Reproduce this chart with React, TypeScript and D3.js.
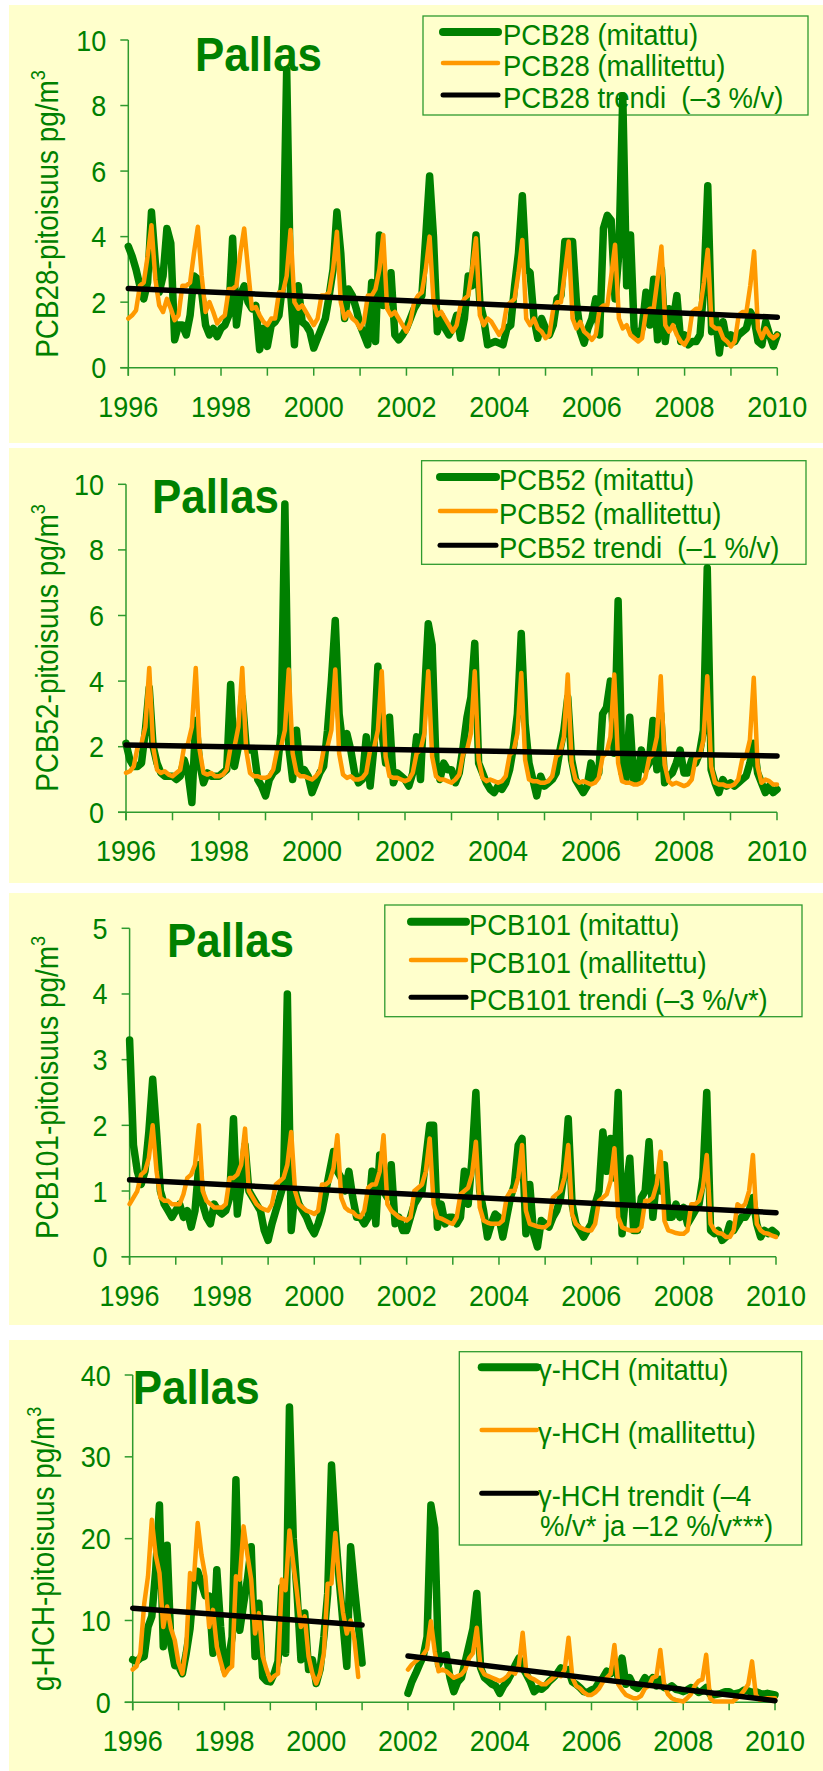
import React from 'react';
import * as d3 from 'd3';

// monthly time axis 1996.0 .. 2010.0
const months = d3.range(169).map(i => 1996 + i / 12);
const yearTicks = d3.range(1996, 2011);
const yearLabels = d3.range(1996, 2011, 2);

// PCB28 (pg/m3)
const pcb28Measured = [
  3.7, 3.4, 3.0, 2.5, 2.1, 2.6, 4.75, 3.2, 2.3, 2.8, 4.25, 3.8,
  0.85, 1.3, 1.3, 1.0, 1.6, 2.8, 2.7, 2.3, 1.3, 1.0, 1.2, 0.95,
  1.2, 1.3, 1.6, 3.95, 1.3, 2.2, 2.5, 2.0, 1.8, 1.9, 0.55, 1.2,
  0.65, 1.3, 1.4, 1.6, 2.6, 9.1, 2.3, 0.7, 2.5, 1.4, 1.3, 1.1,
  0.6, 0.9, 1.2, 1.5, 2.2, 3.0, 4.75, 3.5, 1.5, 2.4, 2.2, 1.8,
  1.3, 1.0, 0.7, 2.6, 0.8, 4.05, 1.9, 2.0, 2.9, 1.0, 0.85, 1.0,
  1.2, 1.5, 1.8, 2.0, 2.2, 4.0, 5.85, 4.0, 1.1, 1.6, 1.2, 1.0,
  1.2, 1.6, 0.9, 1.5, 2.8, 2.5, 4.05, 2.0, 1.5, 0.7, 0.75, 0.8,
  0.75, 0.7, 1.2, 1.3, 2.5, 3.5, 5.25, 3.0, 2.9, 1.5, 0.9, 1.5,
  1.2, 1.0, 1.3, 2.1, 2.2, 3.85, 3.85, 3.85, 2.0, 1.1, 0.75, 1.2,
  1.5, 2.1, 1.0, 4.25, 4.65, 4.5, 2.1, 3.5, 8.3, 2.5, 4.05, 1.0,
  1.0, 1.2, 2.3, 1.3, 2.7, 0.85, 3.0, 0.8, 1.8, 1.4, 2.2, 0.8,
  1.0, 0.7, 0.8, 0.8, 1.0, 2.5, 5.55, 1.1, 1.5, 0.45, 1.4, 0.75,
  1.0, 0.8, 1.0, 1.1, 1.2, 1.7, 1.5, 0.8, 0.7, 1.4, 1.0, 0.65,
  1.0,
];
const pcb28Modelled = [
  1.5, 1.6, 1.75, 2.5, 2.6, 3.4, 4.35, 2.7, 1.9, 1.7, 2.1, 1.8,
  1.45, 1.6, 2.5, 2.5, 2.6, 3.5, 4.3, 2.8, 1.7, 2.0, 1.7, 1.35,
  1.5, 1.6, 2.4, 2.4, 2.5, 3.5, 4.25, 3.0, 1.8, 1.85, 1.6, 1.4,
  1.3, 1.5, 1.5, 2.3, 2.3, 2.8, 4.2, 2.0, 1.8, 1.9, 1.7, 1.5,
  1.3, 1.5, 2.2, 2.2, 2.3, 3.0, 4.15, 2.0, 1.5, 1.7, 1.5, 1.4,
  1.2, 1.4, 2.2, 2.2, 2.4, 3.0, 4.05, 1.8, 1.6, 1.7, 1.5, 1.3,
  1.1, 1.4, 2.0, 2.2, 2.3, 3.0, 4.0, 2.0, 1.6, 1.7, 1.5, 1.3,
  1.1, 1.3, 1.9, 2.1, 2.2, 3.0, 3.95, 1.6, 1.3, 1.5, 1.4, 1.2,
  1.0, 1.2, 1.9, 2.0, 2.1, 2.9, 3.9, 1.5, 1.3, 1.5, 1.2, 1.1,
  0.9, 1.0, 1.8, 2.0, 2.0, 2.9, 3.85, 1.5, 1.2, 1.4, 1.1, 1.0,
  0.85, 1.0, 1.8, 1.9, 1.9, 2.8, 3.75, 1.5, 1.2, 1.3, 1.0, 0.9,
  0.8, 0.9, 1.7, 1.8, 1.8, 2.7, 3.7, 1.3, 1.1, 1.3, 1.0, 0.8,
  0.7, 0.9, 1.7, 1.8, 1.8, 2.6, 3.6, 1.3, 1.2, 1.2, 0.9, 0.8,
  0.65, 0.8, 1.6, 1.7, 1.7, 2.5, 3.55, 1.2, 0.9, 1.2, 1.0, 0.9,
  1.0,
];
const pcb28Trend = [2.42, 1.54];

// PCB52 (pg/m3)
const pcb52Measured = [
  2.1, 1.6, 1.4, 1.4, 1.5, 2.5, 3.8, 2.0, 1.5, 1.2, 1.1, 1.1,
  1.1, 1.0, 1.1, 1.6, 1.2, 0.3, 2.8, 1.5, 0.9, 1.2, 1.1, 1.1,
  1.1, 1.2, 1.3, 3.9, 1.4, 2.0, 3.5, 2.0, 1.9, 1.9, 1.0, 0.8,
  0.5, 1.0, 1.2, 1.3, 2.4, 9.4, 2.0, 1.0, 2.5, 1.2, 1.3, 1.1,
  0.6, 0.9, 1.2, 1.4, 2.5, 4.0, 5.85, 3.0, 2.0, 2.4, 1.9, 1.2,
  0.9, 1.0, 2.3, 0.8, 2.0, 4.45, 2.5, 1.5, 2.9, 0.9, 1.2, 1.1,
  1.0, 0.8, 1.2, 2.3, 1.0, 3.5, 5.75, 5.1, 1.5, 1.0, 1.5, 1.3,
  1.3, 0.9, 1.2, 2.0, 2.9, 3.5, 5.15, 1.5, 1.2, 0.9, 0.7, 0.6,
  0.8, 0.7, 0.9, 1.3, 2.0, 3.0, 5.45, 2.7, 1.5, 1.0, 0.5, 1.1,
  0.8, 0.9, 1.0, 1.2, 1.9, 2.5, 3.5, 1.6, 1.0, 0.8, 0.6, 0.8,
  1.5, 1.0, 1.2, 3.0, 3.2, 4.0, 1.8, 6.45, 1.2, 1.0, 2.9, 1.0,
  1.0, 1.9, 1.3, 1.5, 2.8, 1.3, 3.0, 0.9, 1.1, 1.2, 1.5, 1.9,
  1.2, 1.2, 1.6, 1.5, 1.8, 2.5, 7.45, 1.3, 0.9, 0.6, 1.0, 0.8,
  0.9, 0.8, 0.9, 1.0, 1.1, 1.5, 2.1, 1.2, 0.9, 0.6, 0.8, 0.6,
  0.7,
];
const pcb52Modelled = [
  1.2, 1.25, 1.4, 2.0, 2.1, 2.6, 4.4, 2.0, 1.3, 1.2, 1.25, 1.15,
  1.1, 1.2, 1.3, 2.0, 2.1, 2.6, 4.4, 1.9, 1.2, 1.15, 1.2, 1.1,
  1.1, 1.15, 1.3, 2.0, 2.0, 2.6, 4.4, 1.9, 1.2, 1.1, 1.1, 1.05,
  1.05, 1.1, 1.3, 1.9, 2.0, 2.5, 4.35, 1.8, 1.2, 1.1, 1.1, 1.05,
  1.0, 1.1, 1.25, 1.9, 2.0, 2.5, 4.35, 1.8, 1.15, 1.05, 1.1, 1.0,
  1.0, 1.05, 1.2, 1.9, 1.95, 2.5, 4.3, 1.7, 1.1, 1.05, 1.05, 1.0,
  0.95, 1.0, 1.2, 1.8, 1.9, 2.4, 4.3, 1.7, 1.1, 1.0, 1.0, 0.95,
  0.9, 1.0, 1.15, 1.8, 1.9, 2.4, 4.3, 1.6, 1.05, 0.95, 1.0, 0.95,
  0.9, 0.95, 1.1, 1.75, 1.85, 2.4, 4.25, 1.6, 1.0, 0.95, 0.95, 0.9,
  0.9, 0.95, 1.1, 1.7, 1.8, 2.3, 4.2, 1.5, 1.0, 0.9, 0.95, 0.9,
  0.85, 0.9, 1.05, 1.7, 1.8, 2.3, 4.2, 1.5, 0.95, 0.9, 0.9, 0.85,
  0.85, 0.9, 1.05, 1.65, 1.75, 2.3, 4.15, 1.45, 0.95, 0.85, 0.9, 0.85,
  0.8, 0.85, 1.0, 1.65, 1.7, 2.2, 4.15, 1.4, 0.9, 0.85, 0.85, 0.8,
  0.8, 0.85, 1.0, 1.6, 1.7, 2.2, 4.1, 1.4, 0.9, 1.0, 0.95, 0.85,
  0.85,
];
const pcb52Trend = [2.05, 1.72];

// PCB101 (pg/m3)
const pcb101Measured = [
  3.3, 1.7, 1.3, 1.1, 1.3, 1.9, 2.7, 1.9, 1.0, 0.8, 0.7, 0.6,
  0.7, 0.8, 0.6, 0.7, 0.45, 0.7, 1.4, 0.8, 0.6, 0.5, 0.8, 0.7,
  0.65, 0.7, 0.9, 2.1, 0.65, 1.1, 1.7, 1.0, 0.9, 0.8, 0.7, 0.4,
  0.25, 0.5, 0.7, 0.9, 1.1, 4.0, 0.4, 1.0, 0.8, 0.7, 0.6, 0.45,
  0.35, 0.5, 0.7, 1.0, 1.3, 1.6, 1.3, 1.2, 1.0, 1.3, 0.9, 0.6,
  0.6, 0.5, 0.6, 1.3, 0.5, 1.55, 1.0, 0.9, 1.4, 0.5, 0.6, 0.4,
  0.4, 0.6, 0.8, 0.9, 1.0, 1.5, 2.0, 2.0, 0.45, 0.8, 0.5, 0.6,
  0.6, 0.5, 0.6, 1.3, 0.8, 1.5, 2.5, 1.0, 0.7, 0.3, 0.5, 0.65,
  0.6, 0.3, 0.6, 0.9, 1.1, 1.7, 1.8, 0.35, 1.1, 0.35, 0.15, 0.55,
  0.5, 0.45, 0.6, 0.7, 0.9, 1.3, 2.1, 0.8, 0.5, 0.4, 0.3, 0.4,
  0.5, 0.8, 1.0, 1.9, 1.3, 1.8, 1.2, 2.5, 0.35, 1.0, 1.5, 0.4,
  0.4, 0.9, 1.0, 1.75, 0.6, 1.2, 1.0, 1.4, 0.6, 0.6, 0.8, 0.6,
  0.75, 0.5, 0.6, 0.7, 0.8, 1.2, 2.5, 0.4, 0.35, 0.4, 0.25, 0.3,
  0.5, 0.4, 0.5, 0.6, 0.6, 0.7, 0.9, 0.5, 0.3, 0.4, 0.35, 0.4,
  0.35,
];
const pcb101Modelled = [
  0.8, 0.9, 1.0, 1.25, 1.3, 1.5, 2.0, 1.3, 0.9, 0.85, 0.85, 0.8,
  0.8, 0.8, 0.95, 1.2, 1.25, 1.4, 2.0, 1.0, 0.85, 0.8, 0.75, 0.75,
  0.75, 0.8, 1.2, 1.2, 1.25, 1.4, 1.95, 1.0, 0.9, 0.8, 0.75, 0.72,
  0.7, 0.8, 1.1, 1.15, 1.2, 1.4, 1.9, 1.0, 0.8, 0.75, 0.7, 0.68,
  0.65, 0.7, 1.1, 1.1, 1.15, 1.35, 1.85, 0.9, 0.75, 0.7, 0.68, 0.62,
  0.6, 0.7, 1.05, 1.1, 1.1, 1.3, 1.85, 0.8, 0.7, 0.65, 0.6, 0.58,
  0.55, 0.6, 1.0, 1.05, 1.1, 1.3, 1.8, 0.8, 0.6, 0.58, 0.55, 0.52,
  0.5, 0.6, 0.95, 1.0, 1.05, 1.25, 1.75, 0.75, 0.55, 0.52, 0.5, 0.5,
  0.5, 0.55, 0.9, 1.0, 1.0, 1.2, 1.7, 0.7, 0.5, 0.48, 0.46, 0.45,
  0.45, 0.5, 0.9, 0.95, 1.0, 1.2, 1.7, 0.65, 0.5, 0.45, 0.42, 0.4,
  0.4, 0.5, 0.85, 0.9, 0.95, 1.15, 1.65, 0.6, 0.45, 0.42, 0.4, 0.4,
  0.4, 0.45, 0.85, 0.85, 0.9, 1.1, 1.6, 0.55, 0.4, 0.38, 0.36, 0.35,
  0.35, 0.4, 0.8, 0.8, 0.85, 1.05, 1.55, 0.5, 0.4, 0.36, 0.35, 0.3,
  0.3, 0.4, 0.8, 0.75, 0.8, 1.0, 1.55, 0.5, 0.4, 0.36, 0.35, 0.32,
  0.3,
];
const pcb101Trend = [1.17, 0.67];

// gamma-HCH (pg/m3), gap in 2001
const hchMeasured = [
  5.2, 5.0, 5.4, 5.6, 9.2, 10.5, 16.0, 24.1, 6.8, 19.2, 7.0, 4.5,
  4.4, 3.5, 6.0, 9.0, 14.5, 16.0, 14.5, 13.0, 13.0, 6.0, 16.2, 9.2,
  4.0, 5.0, 8.0, 27.2, 8.8, 12.0, 15.0, 19.0, 5.6, 12.1, 3.1, 2.6,
  2.5, 3.5, 5.0, 14.1, 6.0, 36.1, 20.0, 13.3, 5.2, 10.9, 4.0, 5.2,
  2.3, 4.0, 8.0, 13.3, 29.0, 21.0, 15.0, 9.7, 4.4, 19.0, 14.0, 9.5,
  4.8, null, null, null, null, null, null, null, null, null, null, null,
  1.1, 2.5, 3.5, 4.6, 5.6, 8.0, 24.1, 21.3, 4.6, 5.6, 5.8, 3.0,
  1.3, 2.5, 3.0, 5.0, 7.0, 9.0, 13.3, 4.2, 3.0, 2.6, 2.2, 2.0,
  1.1, 2.0, 2.6, 3.5, 4.5, 5.4, 4.2, 3.4, 2.5, 1.3, 1.7, 1.6,
  2.0, 2.6, 3.0, 3.5, 4.2, 3.8, 4.0, 2.5, 2.2, 1.8, 1.3, 1.2,
  1.5, 1.7, 2.5, 3.0, 3.8, 3.5, 4.6, 3.0, 5.4, 2.2, 3.0, 2.0,
  1.7, 2.2, 3.0, 2.5, 3.0, 2.0, 2.8, 1.8, 1.7, 2.0, 1.6, 1.5,
  1.3, 1.5, 1.8, 1.6, 1.2, 1.4, 1.8, 1.0, 0.9, 1.0, 1.1, 1.3,
  1.3, 1.0, 1.1, 1.2, 1.5, 1.4, 1.2, 1.3, 1.1, 1.0, 1.1, 1.0,
  0.9,
];
const hchModelled = [
  4.0, 4.4, 6.0, 12.0, 15.4, 22.3, 18.0, 15.8, 9.2, 11.7, 9.0, 7.6,
  4.8, 3.5, 6.8, 15.8, 15.0, 21.9, 18.0, 15.4, 9.2, 11.3, 6.8, 5.0,
  3.3, 4.0, 4.4, 15.4, 15.0, 21.5, 18.0, 15.0, 8.4, 10.9, 5.6, 4.0,
  2.7, 3.2, 3.5, 15.0, 13.7, 21.0, 17.0, 13.3, 9.2, 10.5, 5.6, 3.5,
  2.3, 3.5, 6.0, 14.5, 14.5, 20.7, 15.0, 11.0, 8.4, 10.0, 7.6, 3.1,
  null, null, null, null, null, null, null, null, null, null, null, null,
  4.0, 4.6, 5.0, 5.4, 5.8, 6.5, 9.9, 6.2, 3.8, 4.0, 3.8, 3.4,
  3.0, 3.2, 3.4, 4.0, 5.4, 6.0, 9.1, 4.2, 3.4, 3.2, 3.0, 2.8,
  2.6, 2.8, 3.2, 3.8, 3.5, 4.5, 8.5, 3.4, 3.0, 2.8, 2.5, 2.2,
  2.2, 2.6, 3.0, 3.4, 3.2, 4.0, 7.9, 3.0, 2.0, 1.7, 1.2, 0.9,
  0.9, 1.2, 1.7, 2.5, 3.0, 3.5, 7.0, 2.2, 1.5, 0.9, 0.7, 0.5,
  0.5, 0.8, 1.7, 2.0, 3.0, 3.2, 6.4, 2.2, 1.0, 0.5, 0.3, 0.2,
  0.1, 0.5, 1.0, 2.0, 2.6, 2.8, 5.8, 0.5, 0.1, 0.1, 0.1, 0.1,
  0.1, 0.1, 0.5, 0.9, 1.5, 2.2, 5.0, 0.9, 0.3, 0.4, 0.5, 0.5,
  0.5,
];
const hchTrendA = [11.5, 9.45];
const hchTrendB = [5.66, 0.2];

const FONT = 'Arial, "Liberation Sans", sans-serif';
const GREEN = '#008000';
const ORANGE = '#FF9900';
const BG = '#FFFFCC';
const AXIS = '#2E9A2E';

const toPoints = (vals: (number | null)[]) => months.map((m, i) => [m, vals[i]] as [number, number | null]);

// layout of the four stacked panels (pixel positions only)
const panels = [
  {
    bg: [5, 443], x0: 128.3, x1: 777.3, yTop: 40, yBot: 367.7, yMax: 10, step: 2,
    title: [195, 70.7], yTitle: 'PCB28-pitoisuus pg/m', yTitleX: 58, yTitleY: 214,
    legend: { x: 423, y: 16, w: 385, h: 99, lx0: 443, lx1: 498, tx: 503, rows: [32, 63, 95] },
    labels: ['PCB28 (mitattu)', 'PCB28 (mallitettu)', 'PCB28 trendi  (–3 %/v)'], extra: null,
    measured: pcb28Measured, modelled: pcb28Modelled,
    trends: [{ years: [1996, 2010], vals: pcb28Trend }],
  },
  {
    bg: [448, 883], x0: 126, x1: 777, yTop: 484.3, yBot: 812.3, yMax: 10, step: 2,
    title: [152, 513.3], yTitle: 'PCB52-pitoisuus pg/m', yTitleX: 58, yTitleY: 648,
    legend: { x: 421.6, y: 460.7, w: 384.4, h: 103.6, lx0: 440, lx1: 496, tx: 499, rows: [477, 511, 545.3] },
    labels: ['PCB52 (mitattu)', 'PCB52 (mallitettu)', 'PCB52 trendi  (–1 %/v)'], extra: null,
    measured: pcb52Measured, modelled: pcb52Modelled,
    trends: [{ years: [1996, 2010], vals: pcb52Trend }],
  },
  {
    bg: [893, 1325], x0: 129.6, x1: 776, yTop: 928.3, yBot: 1256.7, yMax: 5, step: 1,
    title: [167, 956.7], yTitle: 'PCB101-pitoisuus pg/m', yTitleX: 58, yTitleY: 1087.5,
    legend: { x: 384.8, y: 905, w: 417.2, h: 111.7, lx0: 411, lx1: 466, tx: 469, rows: [921.7, 960, 997.3] },
    labels: ['PCB101 (mitattu)', 'PCB101 (mallitettu)', 'PCB101 trendi (–3 %/v*)'], extra: null,
    measured: pcb101Measured, modelled: pcb101Modelled,
    trends: [{ years: [1996, 2010], vals: pcb101Trend }],
  },
  {
    bg: [1340, 1771], x0: 132.7, x1: 775, yTop: 1375, yBot: 1702.3, yMax: 40, step: 10,
    title: [132.7, 1404], yTitle: 'g-HCH-pitoisuus pg/m', yTitleX: 54, yTitleY: 1549,
    legend: { x: 459.3, y: 1351.7, w: 342.4, h: 193.3, lx0: 481.7, lx1: 536.7, tx: 538, rows: [1367.3, 1430, 1493.3] },
    labels: ['γ-HCH (mitattu)', 'γ-HCH (mallitettu)', 'γ-HCH trendit (–4'], extra: '%/v* ja –12 %/v***)',
    measured: hchMeasured, modelled: hchModelled,
    trends: [
      { years: [1996, 2001], vals: hchTrendA },
      { years: [2002, 2010], vals: hchTrendB },
    ],
  },
];

const legendStyles = [
  { color: GREEN, width: 8 },
  { color: ORANGE, width: 4.5 },
  { color: '#000000', width: 5 },
];

// text drawn slightly condensed, like the stretched original
function Label({ x, y, size, sx = 0.9, anchor = 'start', bold = false, children }: any) {
  return (
    <text transform={`translate(${x},${y}) scale(${sx},1)`} fontSize={size} textAnchor={anchor}
      fontWeight={bold ? 'bold' : 'normal'} fill={GREEN} style={{ whiteSpace: 'pre' }}>
      {children}
    </text>
  );
}

function Panel({ p }: { p: any }) {
  const x = d3.scaleLinear().domain([1996, 2010]).range([p.x0, p.x1]);
  const y = d3.scaleLinear().domain([0, p.yMax]).range([p.yBot, p.yTop]);
  const line = d3
    .line<[number, number | null]>()
    .defined(d => d[1] != null)
    .x(d => x(d[0]))
    .y(d => y(d[1] as number));
  const yTicks = d3.range(0, p.yMax + p.step / 2, p.step);
  const L = p.legend;

  return (
    <g fontFamily={FONT}>
      <rect x={9} y={p.bg[0]} width={814} height={p.bg[1] - p.bg[0]} fill={BG} />

      {/* legend */}
      <rect x={L.x} y={L.y} width={L.w} height={L.h} fill="none" stroke={AXIS} strokeWidth={1.3} />
      {p.labels.map((lab: string, i: number) => (
        <g key={lab}>
          <line x1={L.lx0} x2={L.lx1} y1={L.rows[i]} y2={L.rows[i]} stroke={legendStyles[i].color}
            strokeWidth={legendStyles[i].width} strokeLinecap="round" />
          <Label x={L.tx} y={L.rows[i] + 13} size={29.5} sx={0.93}>{lab}</Label>
        </g>
      ))}
      {p.extra && <Label x={L.tx + 2} y={L.rows[2] + 43} size={29.5} sx={0.93}>{p.extra}</Label>}

      {/* title */}
      <Label x={p.title[0]} y={p.title[1]} size={47.5} sx={0.925} bold>Pallas</Label>

      {/* axes */}
      <line x1={p.x0} x2={p.x0} y1={p.yTop} y2={p.yBot + 8} stroke={AXIS} strokeWidth={1.5} />
      <line x1={p.x0 - 8} x2={p.x1} y1={p.yBot} y2={p.yBot} stroke={AXIS} strokeWidth={1.5} />
      {yTicks.map(t => (
        <g key={t}>
          <line x1={p.x0 - 8} x2={p.x0} y1={y(t)} y2={y(t)} stroke={AXIS} strokeWidth={1.5} />
          <Label x={p.x0 - 22} y={y(t) + 10.5} size={30} anchor="end">{t}</Label>
        </g>
      ))}
      {yearTicks.map(t => (
        <line key={t} x1={x(t)} x2={x(t)} y1={p.yBot} y2={p.yBot + 8} stroke={AXIS} strokeWidth={1.5} />
      ))}
      {yearLabels.map(t => (
        <Label key={t} x={x(t)} y={p.yBot + 49} size={30} anchor="middle">{t}</Label>
      ))}

      {/* y title */}
      <text transform={`translate(${p.yTitleX},${p.yTitleY}) rotate(-90) scale(0.9,1)`} textAnchor="middle"
        fontSize={31} fill={GREEN}>
        {p.yTitle}
        <tspan fontSize={20} dy={-13}>3</tspan>
      </text>

      {/* series */}
      <path d={line(toPoints(p.measured)) || ''} fill="none" stroke={GREEN} strokeWidth={7.5}
        strokeLinejoin="round" strokeLinecap="round" />
      <path d={line(toPoints(p.modelled)) || ''} fill="none" stroke={ORANGE} strokeWidth={4.5}
        strokeLinejoin="round" strokeLinecap="round" />
      {p.trends.map((tr: any, i: number) => (
        <path key={i} d={line(tr.years.map((yr: number, j: number) => [yr, tr.vals[j]])) || ''}
          fill="none" stroke="#000000" strokeWidth={5.5} strokeLinecap="round" />
      ))}
    </g>
  );
}

export default function App() {
  return (
    <svg width={823} height={1771} style={{ position: 'absolute', left: 0, top: 0, background: '#ffffff' }}>
      {panels.map((p, i) => (
        <Panel key={i} p={p} />
      ))}
    </svg>
  );
}
